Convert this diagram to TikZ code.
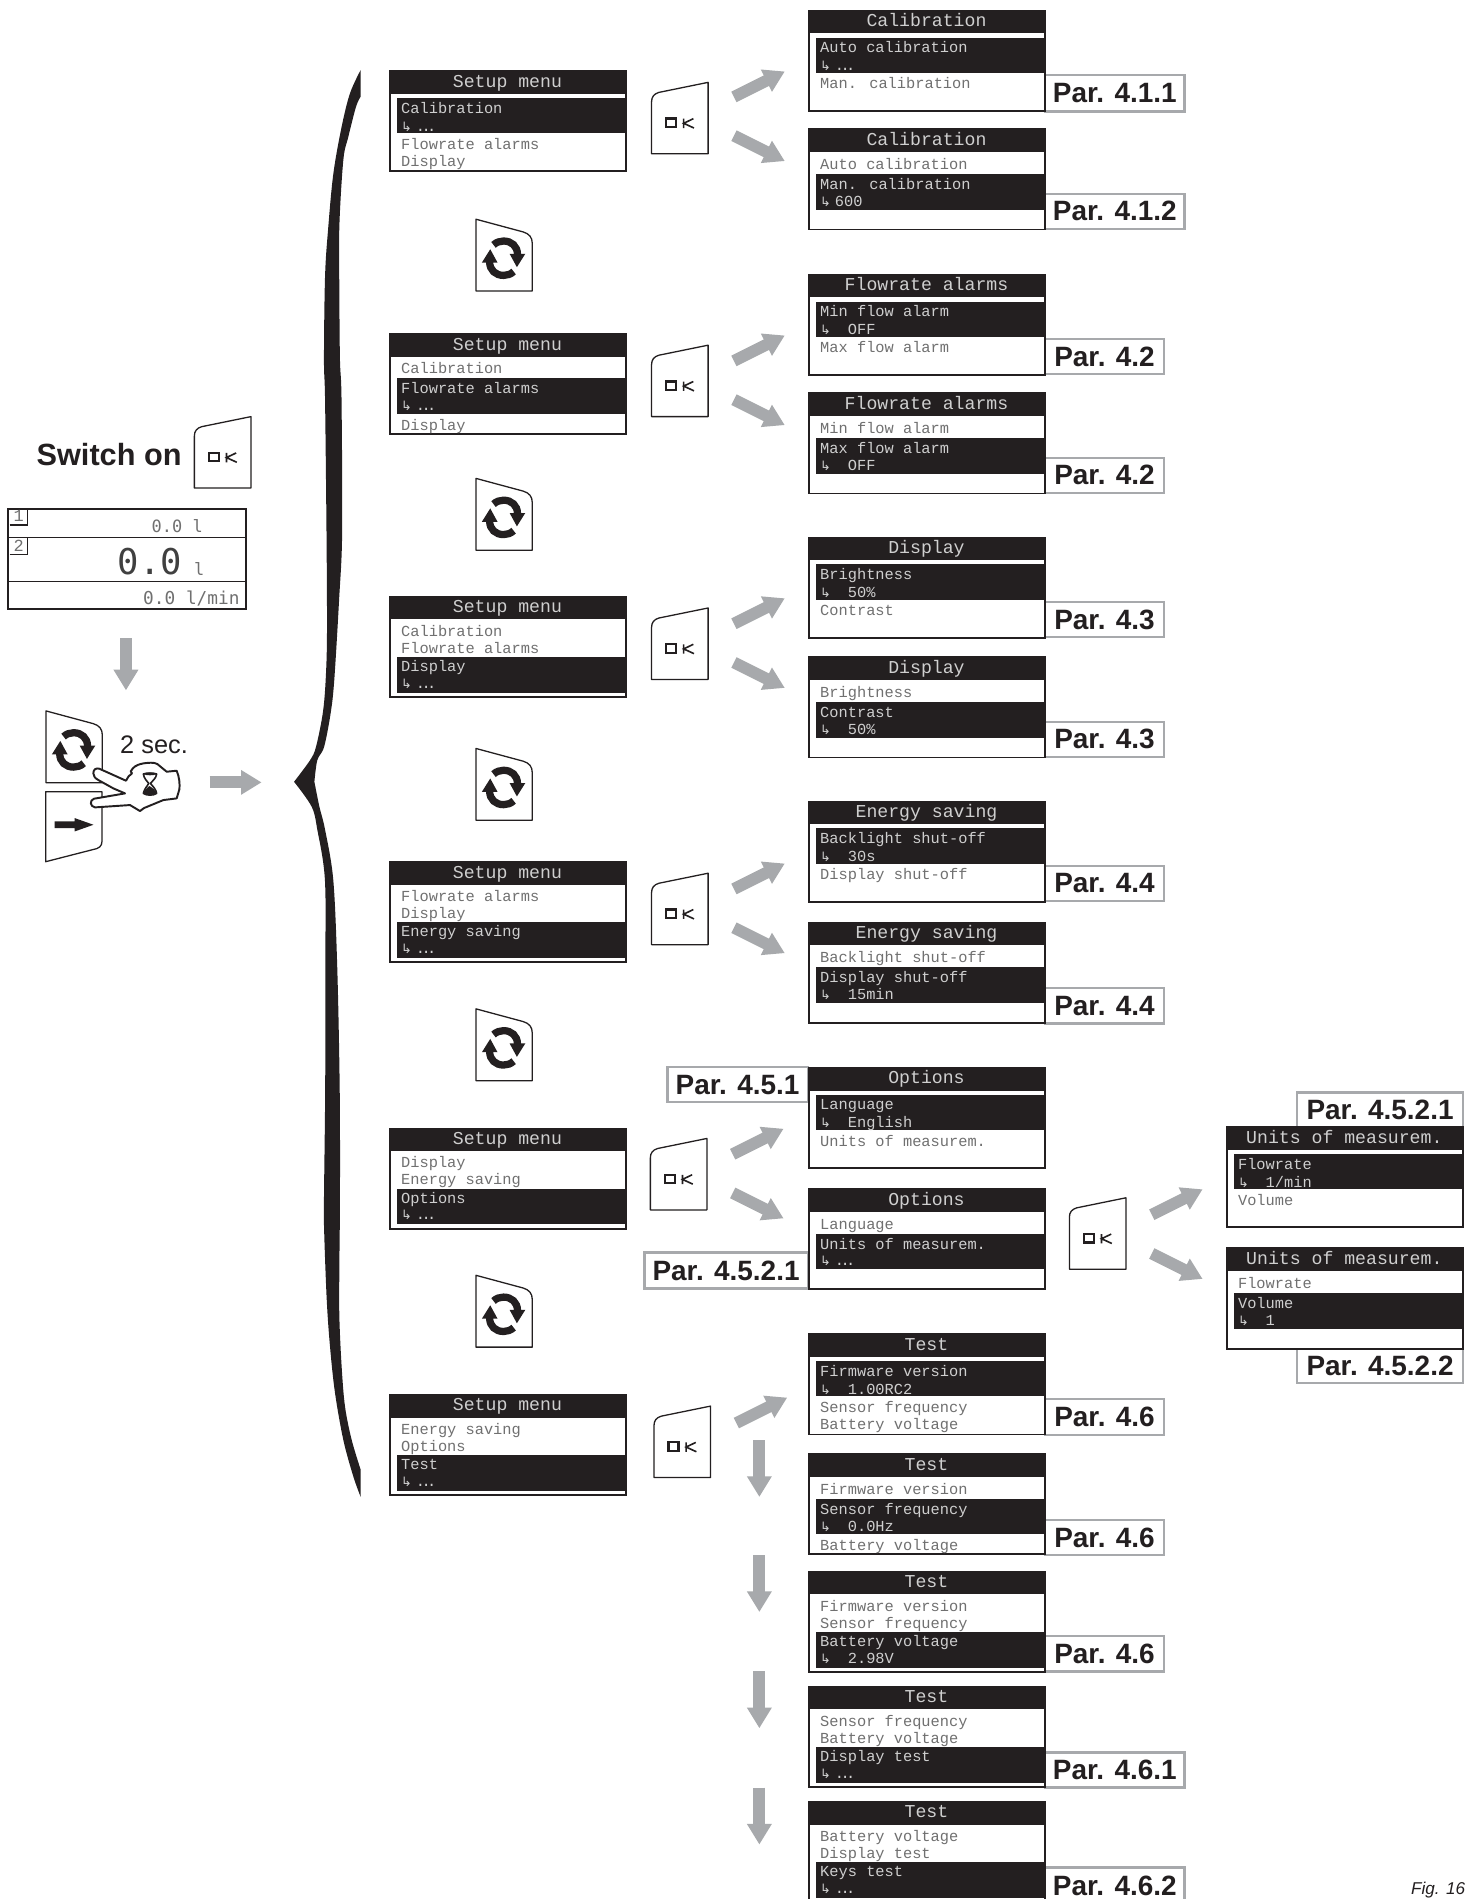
\documentclass[tikz,border=0pt]{standalone}
\usepackage{fontspec}
\usetikzlibrary{arrows.meta}
\setmainfont{Liberation Sans}
\newfontfamily\lcdfont{Liberation Mono}
\newfontfamily\dispfont{DejaVu Sans Mono}
\newfontfamily\arrfont{DejaVu Sans}
\definecolor{inkblack}{HTML}{231F20}
\definecolor{fatgray}{HTML}{A7A9AC}
\definecolor{lcdlight}{HTML}{CFCFCF}
\definecolor{lcddim}{HTML}{707070}
\newcommand\lcdline{\lcdfont\fontsize{9.5}{11}\selectfont}
\newcommand\lcdtitle{\lcdfont\fontsize{11.25}{13}\selectfont}
\newcommand\ra{\makebox[5.7pt][l]{\arrfont\fontsize{8}{10}\selectfont ↳}\hspace{3.4pt}}
\newcommand\rb{\makebox[5.7pt][l]{\arrfont\fontsize{8}{10}\selectfont ↳}\hspace{11.4pt}}
\newcommand\dd{.\kern-2.2pt.\kern-2.2pt.}
\tikzset{
  x=0.75pt,y=-0.75pt,
  menubox/.style={draw=inkblack,line width=1.2pt,fill=white,anchor=north west,inner sep=0pt,minimum width=146.5pt,minimum height=62pt},
  lcdtext/.style={inner sep=0pt,anchor=base west,font=\lcdline},
  titletext/.style={inner sep=0pt,anchor=base,font=\lcdtitle,text=lcdlight},
  parbox/.style={draw=fatgray,line width=1.5pt,fill=white,inner sep=0pt,font=\bfseries\fontsize{17.3}{20}\selectfont,text=inkblack},
  fatarrow/.style={draw=fatgray,line width=7.3pt,-{Triangle[length=12.75pt,width=14.5pt]}},
  btn/.style={draw=inkblack,line width=0.8pt,fill=white,line join=round},
  icoline/.style={draw=inkblack,line width=4.5pt},
}
\newcommand\mline[5]{\if\relax\detokenize{#5}\relax\else\node[lcdtext,text=#4] (#1) at (#2,#3) {#5};\fi}
% name x y type title l1 l2 l3 l4
\newcommand\menu[9]{%
  \ifcase#4\relax\or
    \def\ba{23}\def\bb{52}\def\oa{35.3}\def\ob{50.3}\def\oc{65.3}\def\od{79.3}%
    \def\ca{lcdlight}\def\cb{lcdlight}\def\cc{lcddim}\def\cd{lcddim}%
  \or
    \def\ba{37.5}\def\bb{67}\def\oa{33.8}\def\ob{50.3}\def\oc{64.3}\def\od{80.3}%
    \def\ca{lcddim}\def\cb{lcdlight}\def\cc{lcdlight}\def\cd{lcddim}%
  \or
    \def\ba{50.5}\def\bb{80}\def\oa{33.3}\def\ob{47.3}\def\oc{62.3}\def\od{76.3}%
    \def\ca{lcddim}\def\cb{lcddim}\def\cc{lcdlight}\def\cd{lcdlight}%
  \fi
  \node[menubox] (#1) at (#2,#3) {};
  \fill[inkblack] ({#2},{#3}) rectangle ({#2+197},{#3+19.5});
  \fill[inkblack] ({#2+6.5},{#3+\ba}) rectangle ({#2+195.4},{#3+\bb});
  \node[titletext] (#1t) at ({#2+98},{#3+14}) {#5};
  \mline{#1a}{#2+10}{#3+\oa}{\ca}{#6}
  \mline{#1b}{#2+10}{#3+\ob}{\cb}{#7}
  \mline{#1c}{#2+10}{#3+\oc}{\cc}{#8}
  \mline{#1d}{#2+10}{#3+\od}{\cd}{#9}
}
% name xleft ytop
\newcommand\okbtn[3]{%
  \begin{scope}[shift={(#2,#3)}]
    \path[btn] (46.7,0) -- (6,8.3) .. controls (2,9.5) and (0,12) .. (0,16) -- (0,59) -- (46.7,59) -- cycle;
    \draw[inkblack,line width=1.4pt] (12,29.9) rectangle (20.2,36.9);
    \draw[inkblack,line width=1pt] (26.5,30) -- (26.5,37.7) (34.5,30) -- (26.5,33.8) -- (35,37.7);
    \coordinate (#1) at (23,30);
  \end{scope}
}
\newcommand\refreshicon[2]{%
  \begin{scope}[shift={(#1,#2)}]
    \draw[icoline] (-8.3,-11) .. controls (-6,-13.2) and (-3,-14.2) .. (0,-14.2) .. controls (6.5,-14.2) and (11.5,-10) .. (11.5,-3);
    \fill[inkblack] (5,-3.6) -- (17.9,-3.6) -- (11,7.4) -- cycle;
    \draw[icoline] (8.3,11) .. controls (6,13.2) and (3,14.2) .. (0,14.2) .. controls (-6.5,14.2) and (-11.5,10) .. (-11.5,3);
    \fill[inkblack] (-5,3.6) -- (-17.9,3.6) -- (-11,-7.4) -- cycle;
  \end{scope}
}
\newcommand\rfbtn[3]{%
  \begin{scope}[shift={(#2,#3)}]
    \path[btn] (0,0) -- (39,10.5) .. controls (44,12) and (46.5,15) .. (46.5,20) -- (46.5,59.3) -- (0,59.3) -- cycle;
    \coordinate (#1) at (23,30);
  \end{scope}
  \refreshicon{#2+22.8}{#3+32.2}
}
\newcommand\fat[5]{\coordinate (#1s) at (#2,#3); \coordinate (#1e) at (#4,#5); \draw[fatarrow] (#1s) -- (#1e);}
\newcommand\parb[6]{\node[parbox,minimum width={(#4-#3)*0.75pt},minimum height={(#6-#5)*0.75pt}] (#1) at ({(#3+#4)/2},{(#5+#6)/2}) {#2};}
\begin{document}
\begin{tikzpicture}
\useasboundingbox (0,0) rectangle (1218,1568);
\fill[white] (0,0) rectangle (1218,1568);
% Brace
\fill[inkblack]
  plot[smooth,tension=0.55] coordinates {(297.8,57.8)(289,77)(282.1,104.6)(275.3,143)(271.1,187)(268.4,228)(267.5,297)(268.4,330)(269.6,440)(270,523)(268.9,561.5)(266.5,589)(260.9,616.7)(256,627.7)(242.8,645.5)}
  -- plot[smooth,tension=0.55] coordinates {(242.8,645.5)(257.3,666)(262,685)(268.3,726.8)(268.6,800)(268.5,900)(267.5,991)(267.7,1018)(269.8,1073.5)(272.5,1112)(276.6,1150)(283.5,1189)(291.7,1219)(297.8,1236)}
  -- plot[smooth,tension=0.55] coordinates {(297.8,1213.5)(290.4,1189)(284.9,1161.6)(282.1,1128.6)(280.2,1087)(280.2,1046)(280.7,991)(280.5,900)(278.5,800)(275.2,726.8)(268.4,685)(263.7,666)(259.6,645.5)}
  -- plot[smooth,tension=0.55] coordinates {(259.6,645.5)(262,627.7)(267.6,616.7)(273,589)(276,561.5)(280,495)(282.5,440)(282,330)(280.7,297)(280.2,242)(280.2,187)(283.5,132)(287.6,113)(294,88)(297.8,79.8)}
  -- cycle;
% Left part
\node[inner sep=0pt,anchor=base west,font=\bfseries\fontsize{19}{22}\selectfont,text=inkblack] (swon) at (30,384) {Switch on};
\okbtn{okstart}{160.5}{344}
\node[draw=inkblack,line width=1.2pt,fill=white,inner sep=0pt,anchor=north west,minimum width=147.3pt,minimum height=61.8pt] (mainbox) at (6,419.7) {};
\coordinate (mainl) at (6.5,443.5); \coordinate (mainr) at (203.5,443.5);
\coordinate (mainl2) at (6.5,480); \coordinate (mainr2) at (203.5,480);
\draw[inkblack,line width=0.7pt] (mainl) -- (mainr) (mainl2) -- (mainr2);
\draw[inkblack,line width=0.7pt] (8,433.5) -- (23,433.5) -- (23,420);
\draw[inkblack,line width=0.7pt] (8,457.5) -- (23,457.5) -- (23,444);
\node[lcdtext,text=lcddim,font=\lcdfont\fontsize{10.5}{12}\selectfont] (num1) at (11,431) {1};
\node[lcdtext,text=lcddim,font=\lcdfont\fontsize{10.5}{12}\selectfont] (num2) at (11,455) {2};
\node[lcdtext,text=lcddim,font=\dispfont\fontsize{10.5}{12}\selectfont] (val1) at (125,439.5) {0.0 l};
\node[lcdtext,text=black!75,font=\dispfont\fontsize{22}{24}\selectfont] (val2) at (97,474) {0.0};
\node[lcdtext,text=lcddim,font=\dispfont\fontsize{10.5}{12}\selectfont] (val3) at (160,475) {l};
\node[lcdtext,text=lcddim,font=\dispfont\fontsize{11}{13}\selectfont] (val4) at (118,499) {0.0 l/min};
\fat{da}{104}{527}{104}{570}
\fat{db}{173}{646}{216}{646}
% Pressed keys
\rfbtn{keyrf}{38}{587}
\begin{scope}[shift={(37.7,653.7)}]
  \path[btn] (0,0) -- (46.5,0) -- (46.5,41) .. controls (46.5,45) and (44,47) .. (39,47.8) -- (0,57.8) -- cycle;
  \fill[inkblack] (7.5,24.5) -- (24,24.5) -- (24,21.8) -- (39.5,27.3) -- (24,32.8) -- (24,30) -- (7.5,30) -- cycle;
  \coordinate (keyar) at (23,28);
\end{scope}
\node[inner sep=0pt,anchor=base west,font=\fontsize{15.7}{18}\selectfont,text=inkblack] (twosec) at (99,622) {2 sec.};
\begin{scope}[shift={(66.06,619.3)},scale=0.2753]
  \path[draw=inkblack,fill=white,line width=1.2pt,line join=round]
    (40,70) .. controls (40,58) and (48,53) .. (58,56) -- (138,92)
    .. controls (142,82) and (148,75) .. (156,70) -- (152,64) .. controls (160,52) and (165,45) .. (190,40)
    .. controls (205,38) and (222,36) .. (232,42) -- (260,65) -- (290,62)
    .. controls (298,80) and (300,105) .. (298,118) -- (290,145) -- (250,150) -- (192,174) -- (180,183) -- (150,165)
    -- (45,172) .. controls (30,170) and (28,150) .. (42,146) -- (135,130) -- (100,115) -- (55,90)
    .. controls (45,84) and (40,78) .. (40,70) -- cycle;
  \draw[inkblack,line width=1pt,line join=round] (190,72) .. controls (200,68) and (220,68) .. (230,72) .. controls (228,85) and (218,92) .. (211,100) .. controls (218,108) and (228,118) .. (230,130) .. controls (220,137) and (200,137) .. (190,130) .. controls (192,118) and (202,108) .. (206,100) .. controls (200,92) and (192,85) .. (190,72) -- cycle;
  \fill[inkblack] (190,130) .. controls (194,120) and (202,112) .. (208,108) .. controls (216,112) and (226,120) .. (230,130) .. controls (220,137) and (200,137) .. (190,130) -- cycle;
  \fill[inkblack] (190,72) .. controls (200,66) and (220,66) .. (230,72) .. controls (220,77) and (200,77) .. (190,72) -- cycle;
\end{scope}
% Setup menus
\menu{s1}{321}{58}{1}{Setup menu}{Calibration}{\ra\dd}{Flowrate alarms}{Display}
\menu{s2}{321}{275}{2}{Setup menu}{Calibration}{Flowrate alarms}{\ra\dd}{Display}
\menu{s3}{321}{492}{3}{Setup menu}{Calibration}{Flowrate alarms}{Display}{\ra\dd}
\menu{s4}{321}{711}{3}{Setup menu}{Flowrate alarms}{Display}{Energy saving}{\ra\dd}
\menu{s5}{321}{931}{3}{Setup menu}{Display}{Energy saving}{Options}{\ra\dd}
\menu{s6}{321}{1151}{3}{Setup menu}{Energy saving}{Options}{Test}{\ra\dd}
% OK and refresh keys
\okbtn{ok1}{538}{68}
\okbtn{ok2}{538}{285}
\okbtn{ok3}{538}{502}
\okbtn{ok4}{538}{721}
\okbtn{ok5}{537}{940}
\okbtn{ok6}{540}{1161}
\okbtn{ok7}{883}{989}
\rfbtn{rf1}{393}{181}
\rfbtn{rf2}{393}{395}
\rfbtn{rf3}{393}{618}
\rfbtn{rf4}{393}{833}
\rfbtn{rf5}{393}{1053}
% Fat arrows
\fat{u1}{606}{80}{648}{59}
\fat{d1}{606}{112}{648}{133}
\fat{u2}{606}{298}{648}{277}
\fat{d2}{606}{330}{648}{351}
\fat{u3}{606}{515}{648}{494}
\fat{d3}{606}{547}{648}{568}
\fat{u4}{606}{734}{648}{713}
\fat{d4}{606}{766}{648}{787}
\fat{u5}{605}{953}{647}{932}
\fat{d5}{605}{985}{647}{1006}
\fat{u6}{608}{1175}{650}{1154}
\fat{v1}{627}{1189}{627}{1236}
\fat{v2}{627}{1284}{627}{1331}
\fat{v3}{627}{1380}{627}{1427}
\fat{v4}{627}{1476}{627}{1523}
\fat{u7}{951}{1003}{993}{982}
\fat{d7}{951}{1035}{993}{1056}
% Par boxes
\parb{p411}{Par. 4.1.1}{863}{978}{62}{92}
\parb{p412}{Par. 4.1.2}{863}{978}{160}{189}
\parb{p42a}{Par. 4.2}{863}{961}{280}{309}
\parb{p42b}{Par. 4.2}{863}{961}{378}{407}
\parb{p43a}{Par. 4.3}{863}{961}{497}{526}
\parb{p43b}{Par. 4.3}{863}{961}{596}{625}
\parb{p44a}{Par. 4.4}{863}{961}{715}{744}
\parb{p44b}{Par. 4.4}{863}{961}{816}{845}
\parb{p451}{Par. 4.5.1}{551}{667}{881}{910}
\parb{p4521a}{Par. 4.5.2.1}{532}{667}{1034}{1064}
\parb{p4521b}{Par. 4.5.2.1}{1071}{1208}{902}{931}
\parb{p4522}{Par. 4.5.2.2}{1071}{1208}{1113}{1142}
\parb{p46a}{Par. 4.6}{863}{961}{1155}{1185}
\parb{p46b}{Par. 4.6}{863}{961}{1255}{1284}
\parb{p46c}{Par. 4.6}{863}{961}{1351}{1380}
\parb{p461}{Par. 4.6.1}{863}{978}{1447}{1476}
\parb{p462}{Par. 4.6.2}{863}{978}{1542}{1572}
% Right menus
\menu{c1}{667}{8}{1}{Calibration}{Auto calibration}{\ra\dd}{Man. calibration}{}
\menu{c2}{667}{106}{2}{Calibration}{Auto calibration}{Man. calibration}{\ra 600}{}
\menu{f1}{667}{226}{1}{Flowrate alarms}{Min flow alarm}{\rb OFF}{Max flow alarm}{}
\menu{f2}{667}{324}{2}{Flowrate alarms}{Min flow alarm}{Max flow alarm}{\rb OFF}{}
\menu{g1}{667}{443}{1}{Display}{Brightness}{\rb 50\%}{Contrast}{}
\menu{g2}{667}{542}{2}{Display}{Brightness}{Contrast}{\rb 50\%}{}
\menu{e1}{667}{661}{1}{Energy saving}{Backlight shut-off}{\rb 30s}{Display shut-off}{}
\menu{e2}{667}{761}{2}{Energy saving}{Backlight shut-off}{Display shut-off}{\rb 15min}{}
\menu{o1}{667}{881}{1}{Options}{Language}{\rb English}{Units of measurem.}{}
\menu{o2}{667}{981}{2}{Options}{Language}{Units of measurem.}{\ra\dd}{}
\menu{t1}{667}{1101}{1}{Test}{Firmware version}{\rb 1.00RC2}{Sensor frequency}{Battery voltage}
\menu{t2}{667}{1200}{2}{Test}{Firmware version}{Sensor frequency}{\rb 0.0Hz}{Battery voltage}
\menu{t3}{667}{1297}{3}{Test}{Firmware version}{Sensor frequency}{Battery voltage}{\rb 2.98V}
\menu{t4}{667}{1392}{3}{Test}{Sensor frequency}{Battery voltage}{Display test}{\ra\dd}
\menu{t5}{667}{1487}{3}{Test}{Battery voltage}{Display test}{Keys test}{\ra\dd}
\menu{u1}{1012}{930}{1}{Units of measurem.}{Flowrate}{\rb 1/min}{Volume}{}
\menu{u2}{1012}{1030}{2}{Units of measurem.}{Flowrate}{Volume}{\rb 1}{}
\node[inner sep=0pt,anchor=base east,font=\itshape\fontsize{10.6}{13}\selectfont,text=inkblack] (figno) at (1210,1564.5) {Fig. 16};
\end{tikzpicture}
\end{document}
